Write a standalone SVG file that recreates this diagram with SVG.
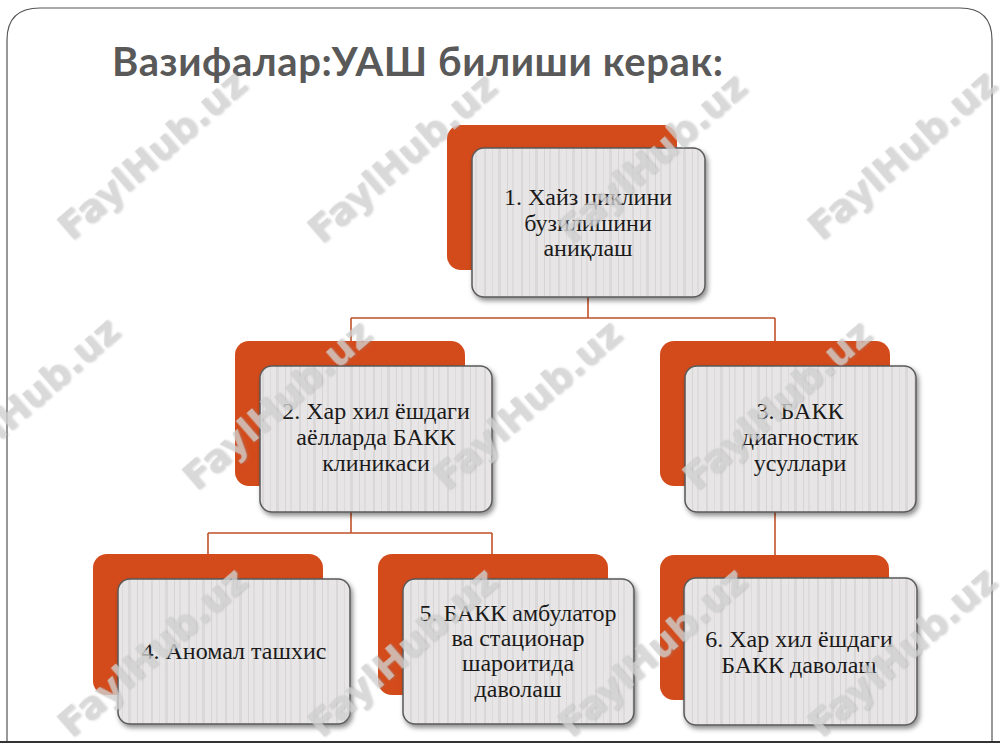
<svg xmlns="http://www.w3.org/2000/svg" width="1000" height="750" viewBox="0 0 1000 750">
<defs>
<pattern id="stripes" width="37" height="10" patternUnits="userSpaceOnUse">
<rect width="37" height="10" fill="#e7e5e5"/>
<rect x="3" width="2" height="10" fill="#d9d7d7"/>
<rect x="11" width="1" height="10" fill="#dcdada"/>
<rect x="17" width="3" height="10" fill="#dad8d8"/>
<rect x="26" width="1" height="10" fill="#d6d4d4"/>
<rect x="31" width="2" height="10" fill="#dddbdb"/>
</pattern>
<filter id="sh" x="-10%" y="-10%" width="125%" height="130%">
<feDropShadow dx="2" dy="3" stdDeviation="2.5" flood-color="#000" flood-opacity="0.45"/>
</filter>
<filter id="wsh" x="-10%" y="-30%" width="120%" height="160%">
<feDropShadow dx="1" dy="1" stdDeviation="0.8" flood-color="#888" flood-opacity="0.5"/>
</filter>
<style>
.back{fill:#d44b1b}
.front{fill:url(#stripes);stroke:#5a5a5a;stroke-width:1.5;filter:url(#sh)}
.lbl{font-family:"Liberation Serif","DejaVu Serif",serif;font-size:24px;fill:#1a1a1a;text-anchor:middle}
.conn{fill:none;stroke:#c0522a;stroke-width:1.6}
.wm{font-family:"DejaVu Sans","Liberation Sans",sans-serif;font-weight:bold;font-size:38px;fill:#d0d0d0;opacity:0.8;text-anchor:middle;filter:url(#wsh)}
</style>
</defs>
<rect width="1000" height="750" fill="#ffffff"/>
<path d="M7,741 L7,40 Q7,8 40,8 L960,8 Q992,8 992,40 L992,741" fill="none" stroke="#555" stroke-width="1.2"/>
<line x1="0" y1="742" x2="1000" y2="742" stroke="#333" stroke-width="2"/>
<text x="112" y="76" font-family="Lato,'Open Sans',sans-serif" font-weight="bold" font-size="40" letter-spacing="0.6" fill="#595959">Вазифалар:УАШ билиши керак:</text>
<g id="connectors">
<path class="conn" d="M588,297 V318 M351,318 H775 M351,318 V341 M775,318 V341"/>
<path class="conn" d="M351,512 V533 M208,533 H492 M208,533 V554 M492,533 V554"/>
<path class="conn" d="M775,512 V555"/>
</g>
<g id="node1">
<rect class="back" x="447" y="125" width="230" height="145" rx="14"/>
<rect class="front" x="472" y="148" width="233" height="149" rx="12"/>
<text class="lbl" x="588" y="205">1. Хайз циклини</text>
<text class="lbl" x="588" y="231">бузилишини</text>
<text class="lbl" x="588" y="256">аниқлаш</text>
</g>
<g id="node2">
<rect class="back" x="235" y="341" width="230" height="145" rx="14"/>
<rect class="front" x="260" y="366" width="232" height="146" rx="12"/>
<text class="lbl" x="376" y="419">2. Хар хил ёшдаги</text>
<text class="lbl" x="376" y="445">аёлларда БАКК</text>
<text class="lbl" x="376" y="471">клиникаси</text>
</g>
<g id="node3">
<rect class="back" x="660" y="341" width="230" height="145" rx="14"/>
<rect class="front" x="685" y="366" width="231" height="146" rx="12"/>
<text class="lbl" x="800" y="419">3. БАКК</text>
<text class="lbl" x="800" y="445">диагностик</text>
<text class="lbl" x="800" y="471">усуллари</text>
</g>
<g id="node4">
<rect class="back" x="93" y="554" width="230" height="141" rx="14"/>
<rect class="front" x="118" y="579" width="232" height="145" rx="12"/>
<text class="lbl" x="234" y="659">4. Аномал ташхис</text>
</g>
<g id="node5">
<rect class="back" x="378" y="554" width="230" height="141" rx="14"/>
<rect class="front" x="403" y="579" width="231" height="145" rx="12"/>
<text class="lbl" x="518" y="621">5. БАКК амбулатор</text>
<text class="lbl" x="518" y="646">ва стационар</text>
<text class="lbl" x="518" y="671">шароитида</text>
<text class="lbl" x="518" y="697">даволаш</text>
</g>
<g id="node6">
<rect class="back" x="660" y="555" width="229" height="145" rx="14"/>
<rect class="front" x="684" y="578" width="233" height="147" rx="12"/>
<text class="lbl" x="799" y="647">6. Хар хил ёшдаги</text>
<text class="lbl" x="799" y="673">БАКК даволаш</text>
</g>
<g id="watermarks">
<text class="wm" transform="translate(152,155) rotate(-41) translate(0,13)">FaylHub.uz</text>
<text class="wm" transform="translate(402,158) rotate(-41) translate(0,13)">FaylHub.uz</text>
<text class="wm" transform="translate(652,158) rotate(-41) translate(0,13)">FaylHub.uz</text>
<text class="wm" transform="translate(902,155) rotate(-41) translate(0,13)">FaylHub.uz</text>
<text class="wm" transform="translate(25,402) rotate(-41) translate(0,13)">FaylHub.uz</text>
<text class="wm" transform="translate(277,405) rotate(-41) translate(0,13)">FaylHub.uz</text>
<text class="wm" transform="translate(527,405) rotate(-41) translate(0,13)">FaylHub.uz</text>
<text class="wm" transform="translate(777,405) rotate(-41) translate(0,13)">FaylHub.uz</text>
<text class="wm" transform="translate(152,652) rotate(-41) translate(0,13)">FaylHub.uz</text>
<text class="wm" transform="translate(402,652) rotate(-41) translate(0,13)">FaylHub.uz</text>
<text class="wm" transform="translate(652,652) rotate(-41) translate(0,13)">FaylHub.uz</text>
<text class="wm" transform="translate(902,652) rotate(-41) translate(0,13)">FaylHub.uz</text>
</g>
</svg>
